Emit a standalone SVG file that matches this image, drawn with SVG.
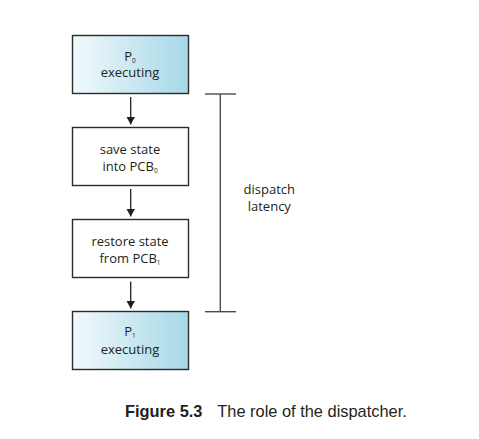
<svg xmlns="http://www.w3.org/2000/svg" width="479" height="439" viewBox="0 0 479 439">
<style>
.box{stroke:#2b2b2b;stroke-width:1.4}
.lbl{font-family:"Open Sans","Noto Sans",sans-serif;font-size:13px;fill:#231f20;text-anchor:middle}
.sub{font-size:6.5px}
.conn{stroke:#231f20;stroke-width:1.3;fill:none}
.bar{stroke:#4d4d4d;stroke-width:1.4;fill:none}
.cap{font-family:"Liberation Sans",Arial,sans-serif;font-size:16.4px;fill:#231f20}
</style>
<defs>
<linearGradient id="blue" x1="0" y1="0" x2="1" y2="0">
<stop offset="0" stop-color="#f2f9fc"/>
<stop offset="1" stop-color="#a5d8e8"/>
</linearGradient>
<marker id="ah" viewBox="0 0 8 9" refX="8" refY="4.5" markerWidth="8" markerHeight="9" markerUnits="userSpaceOnUse" orient="auto">
<path d="M0,0 L8,4.5 L0,9 Z" fill="#231f20"/>
</marker>
</defs>
<rect width="479" height="439" fill="#ffffff"/>
<g id="p0">
<rect class="box" x="72.5" y="35.5" width="116" height="58" fill="url(#blue)"/>
<text class="lbl" x="130" y="60.5">P<tspan class="sub" dy="2">0</tspan></text>
<text class="lbl" x="130" y="77.3">executing</text>
</g>
<g id="save">
<rect class="box" x="72.5" y="127.5" width="116" height="58" fill="#ffffff"/>
<text class="lbl" x="130" y="154">save state</text>
<text class="lbl" x="130" y="170.7">into PCB<tspan class="sub" dy="2.5">0</tspan></text>
</g>
<g id="restore">
<rect class="box" x="72.5" y="219.5" width="116" height="58" fill="#ffffff"/>
<text class="lbl" x="130" y="246">restore state</text>
<text class="lbl" x="130" y="262.7">from PCB<tspan class="sub" dy="2.5">1</tspan></text>
</g>
<g id="p1">
<rect class="box" x="72.5" y="311.5" width="116" height="58" fill="url(#blue)"/>
<text class="lbl" x="130" y="336.2">P<tspan class="sub" dy="2">1</tspan></text>
<text class="lbl" x="130" y="354.3">executing</text>
</g>
<g id="connectors">
<line class="conn" x1="130.7" y1="97" x2="130.7" y2="124.5" marker-end="url(#ah)"/>
<line class="conn" x1="130.7" y1="189" x2="130.7" y2="216.5" marker-end="url(#ah)"/>
<line class="conn" x1="130.7" y1="281.5" x2="130.7" y2="308.5" marker-end="url(#ah)"/>
</g>
<g id="latency">
<line class="bar" x1="205" y1="94" x2="236" y2="94"/>
<line class="bar" x1="220.3" y1="94" x2="220.3" y2="311.7"/>
<line class="bar" x1="205" y1="311.7" x2="236" y2="311.7"/>
<text class="lbl" x="269.3" y="194">dispatch</text>
<text class="lbl" x="269.3" y="210.7">latency</text>
</g>
<g id="caption">
<text class="cap" x="125" y="416.7"><tspan font-weight="bold">Figure 5.3</tspan><tspan x="217.3">The role of the dispatcher.</tspan></text>
</g>
</svg>
